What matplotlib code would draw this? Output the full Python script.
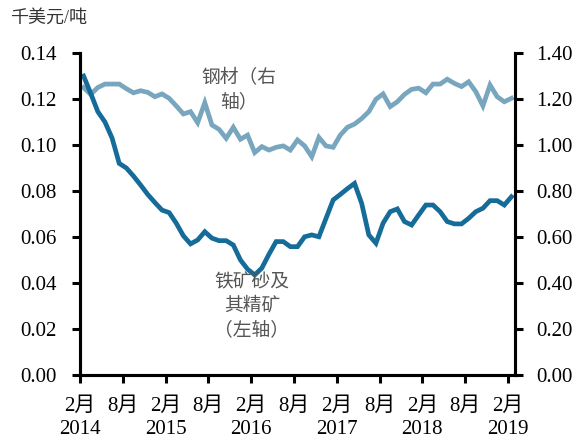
import numpy as np
import matplotlib
matplotlib.use('Agg')
import matplotlib.pyplot as plt

plt.rcParams['font.family'] = ['Liberation Serif', 'Noto Sans CJK SC', 'DejaVu Sans']

# monthly, Feb 2014 .. Feb 2019
iron_ore = [0.130, 0.1225, 0.1145, 0.110, 0.103, 0.092, 0.090, 0.0865, 0.0826, 0.0785,
            0.075, 0.0717, 0.0706, 0.066, 0.0605, 0.057, 0.0587, 0.0623, 0.0595, 0.0584,
            0.0584, 0.0565, 0.050, 0.046, 0.0435, 0.0465, 0.0525, 0.058, 0.058, 0.0558,
            0.0558, 0.0601, 0.0609, 0.0601, 0.0681, 0.0761, 0.0785, 0.081, 0.0833, 0.0746,
            0.0609, 0.0573, 0.066, 0.071, 0.0722, 0.0667, 0.0652, 0.0696, 0.0739, 0.0739,
            0.071, 0.0667, 0.0657, 0.0657, 0.0681, 0.071, 0.0725, 0.0758, 0.0758, 0.0739,
            0.0775]
steel = [1.25, 1.22, 1.25, 1.265, 1.265, 1.265, 1.245, 1.227, 1.236, 1.229,
         1.21, 1.222, 1.203, 1.17, 1.135, 1.145, 1.097, 1.184, 1.087, 1.068,
         1.029, 1.077, 1.025, 1.043, 0.967, 0.993, 0.978, 0.99, 0.996, 0.978,
         1.022, 0.996, 0.949, 1.033, 0.996, 0.99, 1.043, 1.077, 1.091, 1.115,
         1.145, 1.199, 1.222, 1.167, 1.188, 1.22, 1.242, 1.247, 1.227, 1.265,
         1.265, 1.286, 1.268, 1.254, 1.275, 1.232, 1.17, 1.261, 1.21, 1.188,
         1.203]
tick_labels = ['2月\n2014', '8月', '2月\n2015', '8月', '2月\n2016', '8月',
               '2月\n2017', '8月', '2月\n2018', '8月', '2月\n2019']

x = np.arange(len(iron_ore))

fig = plt.figure(figsize=(5.78, 4.41), dpi=100)
ax = fig.add_axes([0.1384, 0.1497, 0.7526, 0.7301])
ax2 = ax.twinx()

ax2.plot(x, steel, color='#78a6be', lw=3.4, solid_joinstyle='miter')
ax.plot(x, iron_ore, color='#166c98', lw=3.4, solid_joinstyle='miter')
ax.set_zorder(ax2.get_zorder() + 1)
ax.patch.set_visible(False)

ax.set_ylim(0, 0.14)
ax2.set_ylim(0, 1.40)
ax.set_xlim(-0.5, 60.5)
ax.set_yticks(np.arange(0, 0.141, 0.02))
ax.set_yticklabels(['%.2f' % v for v in np.arange(0, 0.141, 0.02)])
ax2.set_yticks(np.arange(0, 1.41, 0.2))
ax2.set_yticklabels(['%.2f' % v for v in np.arange(0, 1.41, 0.2)])
ax.set_xticks(np.arange(-0.5, 60, 6))
ax.set_xticklabels(tick_labels, linespacing=1.25)

for a in (ax, ax2):
    for s in a.spines.values():
        s.set_linewidth(2.2)
    a.spines['top'].set_visible(False)
    a.tick_params(width=2.2, length=6, labelsize=15, colors='black')
ax.tick_params(axis='y', pad=11)
ax2.tick_params(axis='y', pad=9)
ax.tick_params(axis='x', pad=10)

fig.text(0.017, 0.958, '千美元/吨', fontsize=13, color='#333333', ha='left', va='center')
ax.text(0.365, 0.95, '钢材（右\n轴）', transform=ax.transAxes, fontsize=13.5, color='#555555',
        ha='center', va='top', linespacing=1.45)
ax.text(0.395, 0.315, '铁矿砂及\n其精矿\n（左轴）', transform=ax.transAxes, fontsize=13.5,
        color='#555555', ha='center', va='top', linespacing=1.45)

fig.savefig('out.png', dpi=100)
